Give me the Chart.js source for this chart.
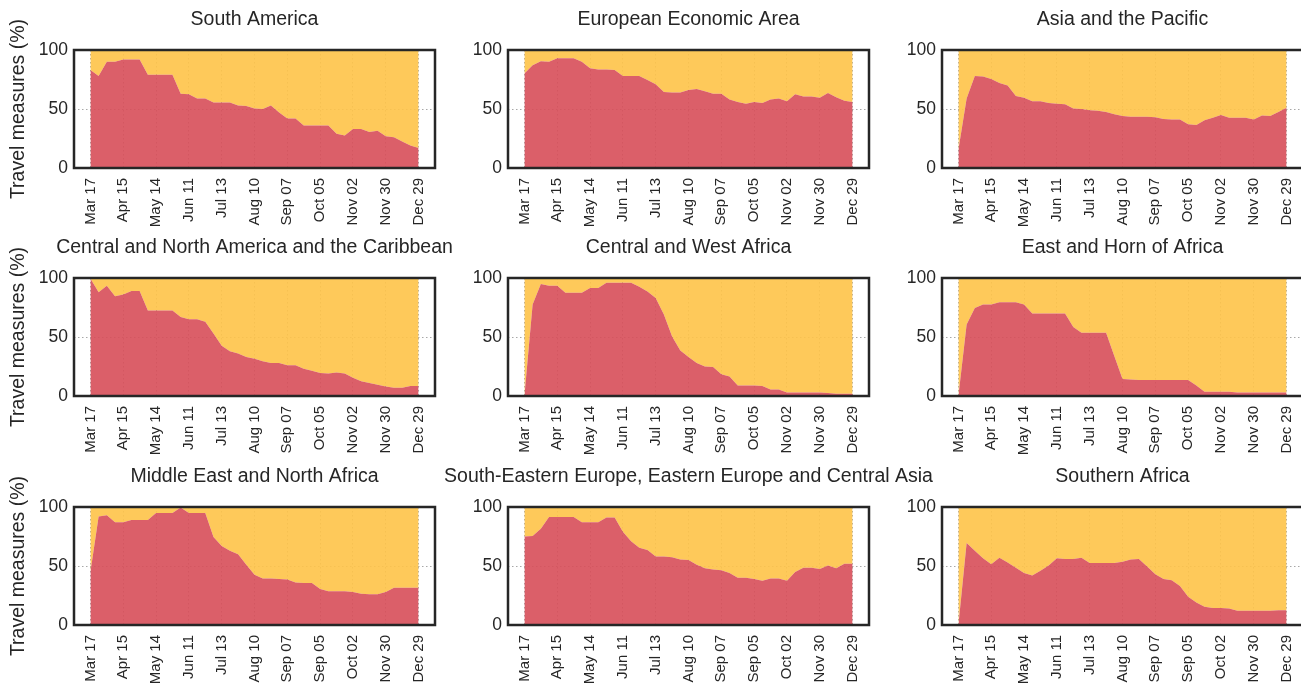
<!DOCTYPE html>
<html>
<head>
<meta charset="utf-8">
<title>Travel measures by region</title>
<script src="https://cdn.jsdelivr.net/npm/chart.js@4.4.1/dist/chart.umd.min.js"></script>
<style>
  html, body { margin: 0; padding: 0; background: #ffffff; }
  #panels { position: relative; width: 1301px; height: 687px; overflow: hidden; }
  #panels canvas { position: absolute; }
</style>
</head>
<body>
<div id="panels"></div>
<script>
// Date labels shown under every fourth weekly observation
const tickLabelsUpper = ['Mar 17', 'Apr 15', 'May 14', 'Jun 11', 'Jul 13', 'Aug 10', 'Sep 07', 'Oct 05', 'Nov 02', 'Nov 30', 'Dec 29'];
const tickLabelsLower = ['Mar 17', 'Apr 15', 'May 14', 'Jun 11', 'Jul 13', 'Aug 10', 'Sep 07', 'Sep 05', 'Oct 02', 'Nov 30', 'Dec 29'];

// Share of destinations with travel measures in place (%), weekly
const southAmerica = [83, 78, 90, 90, 92, 92, 92, 79, 79, 79, 79, 63, 62.5, 59, 59, 55.5, 55.5, 55.5, 53, 52.5, 50.5, 50, 53, 47, 42, 42, 36, 36, 36, 36, 29, 27.5, 33, 33, 30.5, 31.5, 27, 26, 22.5, 19, 17];
const europeanEconomicArea = [80, 87, 90.5, 90, 93, 93, 93, 90, 84.5, 83.5, 83.5, 83, 78, 78, 78, 74.5, 71, 64.5, 64, 64, 66, 67, 65, 63, 63, 58, 56, 54.5, 56, 55, 58, 59, 56.5, 62.5, 60.5, 60.5, 59.5, 63.5, 60, 57, 56];
const asiaPacific = [15.5, 59, 78, 77.5, 75.5, 72, 70, 61, 59.5, 56.5, 56.5, 55, 54.5, 54, 50.5, 50, 49, 48.5, 47.5, 45.5, 44, 43.5, 43.5, 43.5, 43, 41.5, 41, 41, 37, 36.5, 40.5, 42.5, 45, 42.5, 42.5, 42.5, 41, 44.5, 44, 47.5, 51];
const centralNorthAmericaCaribbean = [99.5, 88, 93.5, 84.5, 86, 89, 89, 72.5, 72.5, 72.5, 72.5, 67, 65, 65, 63, 53, 42.5, 38, 36, 33, 31.5, 29.5, 28, 28, 26, 26, 23, 21.5, 19.5, 19, 20, 19, 15.5, 12.5, 11, 9.5, 8, 7, 7, 8.5, 8.5];
const centralWestAfrica = [0, 77.5, 95, 93.5, 93.5, 87.5, 87.5, 87.5, 91.5, 91.5, 96, 96, 96, 96, 92.5, 88.5, 83, 69, 50.5, 38.5, 33, 28, 25, 24.5, 18.5, 16.5, 9, 9, 9, 8.5, 5.5, 5.5, 3, 3, 3, 3, 3, 2.5, 2, 2, 2];
const eastHornAfrica = [0, 60.5, 74.5, 77.5, 77.5, 79.5, 79.5, 79.5, 77.5, 70, 70, 70, 70, 70, 58.5, 53.5, 53.5, 53.5, 53.5, 34, 14.5, 14, 13.5, 13.5, 13.5, 13.5, 13.5, 13.5, 13.5, 9, 3.5, 3.5, 3.5, 3.5, 3, 3, 3, 3, 3, 3, 3];
const middleEastNorthAfrica = [45, 92, 93, 87, 87, 89, 89, 89, 95, 95, 95, 99.5, 95, 95, 95, 74.5, 67, 63, 60, 51, 42.5, 39.5, 39.5, 39, 38.5, 36, 35.5, 35.5, 30.5, 28.5, 28.5, 28.5, 28, 26.5, 26, 26, 28, 31.5, 31.5, 31.5, 31.5];
const southEasternEasternEuropeCentralAsia = [75, 75.5, 81.5, 91.5, 91.5, 91.5, 91.5, 87, 87, 87, 91, 91, 79, 71, 65.5, 63.5, 58, 58, 57.5, 55.5, 55, 51, 48, 47, 46.5, 44, 40, 40, 39, 37.5, 39.5, 39.5, 37.5, 45, 48.5, 48.5, 47.5, 50.5, 48, 52, 52];
const southernAfrica = [0, 69.5, 63, 56.5, 51.5, 57, 53, 48.5, 44, 42, 46, 50.5, 56.5, 56, 56, 57, 52.5, 52.5, 52.5, 52.5, 53.5, 55.5, 56, 49.5, 43, 39, 38, 33, 24, 19, 15.5, 14.5, 14.5, 14, 12, 12, 12, 12, 12, 12.5, 12.5];

const panels = [
  { title: 'South America', values: southAmerica, ticks: tickLabelsUpper },
  { title: 'European Economic Area', values: europeanEconomicArea, ticks: tickLabelsUpper },
  { title: 'Asia and the Pacific', values: asiaPacific, ticks: tickLabelsUpper },
  { title: 'Central and North America and the Caribbean', values: centralNorthAmericaCaribbean, ticks: tickLabelsUpper },
  { title: 'Central and West Africa', values: centralWestAfrica, ticks: tickLabelsUpper },
  { title: 'East and Horn of Africa', values: eastHornAfrica, ticks: tickLabelsUpper },
  { title: 'Middle East and North Africa', values: middleEastNorthAfrica, ticks: tickLabelsLower },
  { title: 'South-Eastern Europe, Eastern Europe and Central Asia', values: southEasternEasternEuropeCentralAsia, ticks: tickLabelsLower },
  { title: 'Southern Africa', values: southernAfrica, ticks: tickLabelsLower }
];

// Grid geometry (page pixels)
const FRAME_LEFT = [74, 508, 942];
const FRAME_TOP = [50, 278, 507];
const FRAME_W = 361;
const FRAME_H = 118;
const AXIS_W = 74;
const TITLE_H = 50;
const XLAB_H = 60;
const SIDE = 80;          // spare room either side so long titles are not clipped

const FONT = '"Liberation Sans", Arial, sans-serif';
const TEXT = '#262626';
const FRAME = '#262626';
const GRID = '#a8a8a8';
const RED = 'rgba(215, 78, 89, 0.9)';
const YELLOW = 'rgba(254, 195, 72, 0.9)';

Chart.defaults.font.family = FONT;
Chart.defaults.color = TEXT;

// Dark box around each plotting area
const framePlugin = {
  id: 'frame',
  afterDatasetsDraw(chart) {
    const { ctx, chartArea: a } = chart;
    ctx.save();
    ctx.strokeStyle = FRAME;
    ctx.lineWidth = 2.5;
    ctx.strokeRect(a.left, a.top, a.right - a.left, a.bottom - a.top);
    ctx.restore();
  }
};

// Panel heading centred over the plotting area, never squeezed
const panelTitlePlugin = {
  id: 'panelTitle',
  afterDraw(chart, args, opts) {
    const { ctx, chartArea: a } = chart;
    ctx.save();
    ctx.font = 'normal 19.5px ' + FONT;
    ctx.fillStyle = TEXT;
    ctx.textAlign = 'center';
    ctx.textBaseline = 'middle';
    ctx.fillText(opts.text, (a.left + a.right) / 2, a.top - 30);
    ctx.restore();
  }
};

const host = document.getElementById('panels');

panels.forEach((panel, k) => {
  const row = Math.floor(k / 3);
  const col = k % 3;
  const canvas = document.createElement('canvas');
  const w = SIDE + AXIS_W + FRAME_W + SIDE;
  const h = TITLE_H + FRAME_H + XLAB_H;
  canvas.width = w;
  canvas.height = h;
  canvas.style.width = w + 'px';
  canvas.style.height = h + 'px';
  canvas.style.left = (FRAME_LEFT[col] - AXIS_W - SIDE) + 'px';
  canvas.style.top = (FRAME_TOP[row] - TITLE_H) + 'px';
  host.appendChild(canvas);

  const n = panel.values.length;
  const tickIdx = panel.ticks.map((_, i) => i * 4);
  const covered = panel.values.map((v, i) => ({ x: i, y: v }));
  const uncovered = panel.values.map((v, i) => ({ x: i, y: 100 - v }));
  const margin = (n - 1) * 0.05;

  new Chart(canvas, {
    type: 'line',
    data: {
      datasets: [
        { data: covered, fill: 'origin', backgroundColor: RED, borderColor: 'transparent', borderWidth: 0, pointRadius: 0, tension: 0 },
        { data: uncovered, fill: '-1', backgroundColor: YELLOW, borderColor: 'transparent', borderWidth: 0, pointRadius: 0, tension: 0 }
      ]
    },
    options: {
      responsive: false,
      animation: false,
      events: [],
      layout: { padding: { top: TITLE_H, left: SIDE, bottom: 0, right: SIDE } },
      plugins: {
        legend: { display: false },
        tooltip: { enabled: false },
        title: { display: false },
        panelTitle: { text: panel.title }
      },
      scales: {
        x: {
          type: 'linear',
          min: -margin,
          max: (n - 1) + margin,
          afterBuildTicks: (scale) => { scale.ticks = tickIdx.map(v => ({ value: v })); },
          afterFit: (scale) => { scale.height = XLAB_H; },
          grid: { color: GRID, lineWidth: 1, drawTicks: false },
          border: { display: false, dash: [1.5, 2.5] },
          ticks: {
            autoSkip: false,
            minRotation: 90,
            maxRotation: 90,
            padding: 10,
            color: TEXT,
            font: { size: 15 },
            callback: (value, index) => panel.ticks[index]
          }
        },
        y: {
          stacked: true,
          min: 0,
          max: 100,
          afterFit: (scale) => { scale.width = AXIS_W; },
          grid: { color: GRID, lineWidth: 1, drawTicks: false },
          border: { display: false, dash: [1.5, 2.5] },
          ticks: { stepSize: 50, padding: 6, color: TEXT, font: { size: 17.5 } },
          title: {
            display: col === 0,
            text: 'Travel measures (%)',
            color: TEXT,
            font: { size: 19.5, weight: 'normal' },
            padding: { top: 7, bottom: 0 }
          }
        }
      }
    },
    plugins: [framePlugin, panelTitlePlugin]
  });
});
</script>
</body>
</html>
